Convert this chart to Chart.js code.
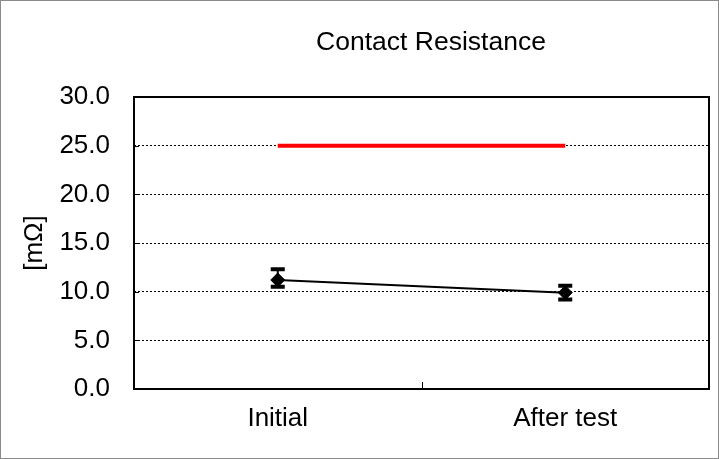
<!DOCTYPE html>
<html>
<head>
<meta charset="utf-8">
<script src="https://cdn.jsdelivr.net/npm/chart.js@4/dist/chart.umd.min.js"></script>
<style>
  body { margin: 0; background: #fff; }
  #wrap { width: 719px; height: 459px; }
</style>
</head>
<body>
<div id="wrap"><canvas id="c"></canvas></div>
<script>
// chart data
const categories = ['Initial', 'After test'];
const meanValues = [11.2, 9.9];
const errLow = [10.5, 9.2];
const errHigh = [12.3, 10.6];
const limitValues = [25, 25];
const yTicks = [0, 5, 10, 15, 20, 25, 30];

const FONT = 'Liberation Sans, Arial, sans-serif';

// frame, title, inner tick marks and error bars
const decor = {
  id: 'decor',
  beforeDatasetsDraw(chart) {
    const { ctx, chartArea: a, scales } = chart;
    ctx.save();
    ctx.strokeStyle = '#000';
    ctx.lineWidth = 2;
    ctx.strokeRect(a.left, a.top, a.right - a.left, a.bottom - a.top);
    // inward ticks
    ctx.lineWidth = 1;
    ctx.beginPath();
    yTicks.forEach(v => {
      const y = Math.round(scales.y.getPixelForValue(v)) + 0.5;
      ctx.moveTo(a.left, y);
      ctx.lineTo(a.left + 5, y);
    });
    const midX = Math.round((a.left + a.right) / 2) + 0.5;
    ctx.moveTo(midX, a.bottom);
    ctx.lineTo(midX, a.bottom - 7);
    ctx.stroke();
    // title
    ctx.fillStyle = '#000';
    ctx.font = '26.5px ' + FONT;
    ctx.textAlign = 'center';
    ctx.textBaseline = 'middle';
    ctx.fillText('Contact Resistance', 431, 43);
    // outer border
    ctx.strokeStyle = '#8a8a8a';
    ctx.strokeRect(0.5, 0.5, chart.width - 1, chart.height - 1);
    ctx.restore();
  },
  afterDatasetsDraw(chart) {
    const { ctx, scales } = chart;
    ctx.save();
    ctx.strokeStyle = '#000';
    categories.forEach((c, i) => {
      const x = scales.x.getPixelForValue(i);
      const yl = scales.y.getPixelForValue(errLow[i]);
      const yh = scales.y.getPixelForValue(errHigh[i]);
      ctx.lineWidth = 2;
      ctx.beginPath();
      ctx.moveTo(x, yl);
      ctx.lineTo(x, yh);
      ctx.stroke();
      ctx.lineWidth = 4;
      ctx.beginPath();
      ctx.moveTo(x - 7, yl);
      ctx.lineTo(x + 7, yl);
      ctx.moveTo(x - 7, yh);
      ctx.lineTo(x + 7, yh);
      ctx.stroke();
    });
    ctx.restore();
  }
};

new Chart(document.getElementById('c'), {
  type: 'line',
  data: {
    labels: categories,
    datasets: [
      {
        label: 'Limit',
        data: limitValues,
        borderColor: '#ff0000',
        borderWidth: 4,
        pointRadius: 0
      },
      {
        label: 'Contact Resistance',
        data: meanValues,
        borderColor: '#000',
        backgroundColor: '#000',
        borderWidth: 2,
        pointStyle: 'rectRot',
        pointRadius: 7,
        pointBorderWidth: 1
      }
    ]
  },
  options: {
    responsive: true,
    maintainAspectRatio: false,
    animation: false,
    layout: { padding: { left: 0, right: 10, top: 97, bottom: 0 } },
    plugins: {
      legend: { display: false },
      tooltip: { enabled: false }
    },
    scales: {
      x: {
        offset: true,
        grid: { display: false, drawTicks: false },
        border: { display: false },
        ticks: { color: '#000', font: { family: FONT, size: 26 }, padding: 14 },
        afterFit(scale) { scale.height = 459 - 389; }
      },
      y: {
        min: 0,
        max: 30,
        grid: { color: '#000', lineWidth: 1, drawTicks: false },
        border: { display: false, dash: [2, 2] },
        ticks: {
          stepSize: 5,
          color: '#000',
          font: { family: FONT, size: 26 },
          padding: 24,
          callback: v => v.toFixed(1)
        },
        title: {
          display: true,
          text: '[mΩ]',
          color: '#000',
          font: { family: FONT, size: 26 },
          padding: { top: 19, bottom: 0 }
        },
        afterFit(scale) { scale.width = 134; }
      }
    }
  },
  plugins: [decor]
});
</script>
</body>
</html>
